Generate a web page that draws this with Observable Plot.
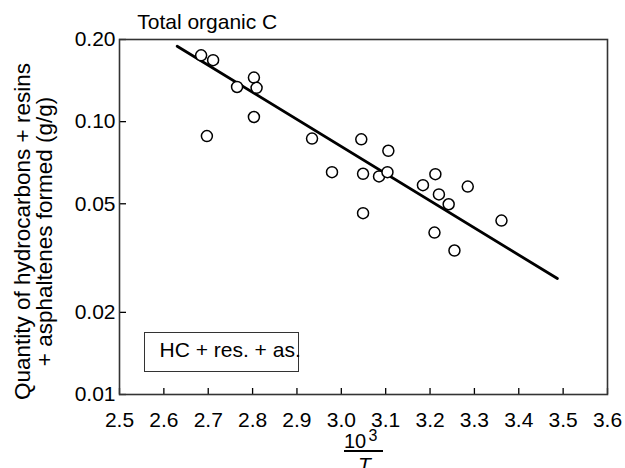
<!DOCTYPE html>
<html><head><meta charset="utf-8">
<script src="https://cdn.jsdelivr.net/npm/d3@7"></script>
<script src="https://cdn.jsdelivr.net/npm/@observablehq/plot@0.6"></script>
<style>
body{margin:0;background:#fff;}
#wrap{position:relative;width:625px;height:468px;overflow:hidden;font-family:"Liberation Sans",Arial,Helvetica,sans-serif;color:#000;background:#fff;}
.abs{position:absolute;line-height:1;white-space:nowrap;}
</style></head><body><div id="wrap"></div>
<script>
// Data
const xValues = [2.684, 2.711, 2.765, 2.803, 2.809, 2.803, 2.697,
                 2.934, 3.045, 3.106, 2.979, 3.049, 3.085, 3.104, 3.049,
                 3.212, 3.184, 3.285, 3.220, 3.242, 3.361, 3.210, 3.255];
const yValues = [0.175, 0.168, 0.134, 0.145, 0.133, 0.104, 0.0885,
                 0.0867, 0.0861, 0.0782, 0.0653, 0.0644, 0.0630, 0.0653, 0.0462,
                 0.0642, 0.0585, 0.0578, 0.0541, 0.0498, 0.0434, 0.0392, 0.0337];
const fitX = [2.63, 3.487];
const fitY = [0.189, 0.0266];
const xTicks = [2.5, 2.6, 2.7, 2.8, 2.9, 3.0, 3.1, 3.2, 3.3, 3.4, 3.5, 3.6];
const yTicks = [0.01, 0.02, 0.05, 0.10, 0.20];
const titleText = "Total organic C";
const yLabel = "Quantity of hydrocarbons + resins\n+ asphaltenes formed (g/g)";
const legendLabel = "HC + res. + as.";

const points = xValues.map((x, i) => ({x, y: yValues[i]}));
const fit = fitX.map((x, i) => ({x, y: fitY[i]}));
const FONT = '"Liberation Sans", Arial, Helvetica, sans-serif';

const chart = Plot.plot({
  width: 625, height: 468,
  marginLeft: 119, marginRight: 18, marginTop: 39, marginBottom: 74,
  style: {fontFamily: FONT, fontSize: "21px", color: "#000", background: "#fff", overflow: "visible"},
  x: {domain: [2.5, 3.6]},
  y: {type: "log", domain: [0.01, 0.2]},
  marks: [
    Plot.axisX({ticks: xTicks, tickSize: -6, tickPadding: 23.5, tickFormat: d3.format(".1f"), label: null, strokeWidth: 1.3}),
    Plot.axisY({ticks: yTicks, tickSize: -7, tickPadding: 11, tickFormat: d3.format(".2f"), label: null, strokeWidth: 1.3}),
    Plot.frame({stroke: "#333", strokeWidth: 1.6}),
    Plot.line(fit, {x: "x", y: "y", stroke: "#000", strokeWidth: 2.8}),
    Plot.dot(points, {x: "x", y: "y", r: 5.5, stroke: "#000", fill: "#fff", strokeWidth: 1.5}),
    Plot.text([yLabel], {frameAnchor: "left", text: d => d, rotate: -90, dx: -86, dy: 14.5, fontSize: 22.5, lineHeight: 0.98, textAnchor: "middle", lineAnchor: "middle"}),
    Plot.text([titleText], {frameAnchor: "top-left", text: d => d, dx: 17.7, dy: -10.7, textAnchor: "start", lineAnchor: "bottom", fontSize: 21})
  ]
});

const wrap = document.getElementById("wrap");
wrap.appendChild(chart);

// Legend box
const box = document.createElement("div");
box.className = "abs";
box.style.cssText = "left:144px;top:332px;width:155px;height:39.5px;border:1.5px solid #333;box-sizing:border-box;background:#fff;";
const lt = document.createElement("span");
lt.className = "abs";
lt.style.cssText = "left:14.5px;top:6.4px;font-size:21px;";
lt.textContent = legendLabel;
box.appendChild(lt);
wrap.appendChild(box);

// X label: 10^3 / T
const num = document.createElement("span");
num.className = "abs";
num.style.cssText = "left:344px;top:430.5px;font-size:20px;";
num.textContent = "10";
wrap.appendChild(num);
const sup = document.createElement("span");
sup.className = "abs";
sup.style.cssText = "left:368.5px;top:430px;font-size:16px;line-height:0.8;";
sup.textContent = "3";
wrap.appendChild(sup);
const bar = document.createElement("div");
bar.className = "abs";
bar.style.cssText = "left:344px;top:450.3px;width:39px;height:1.5px;background:#000;";
wrap.appendChild(bar);
const den = document.createElement("span");
den.className = "abs";
den.style.cssText = "left:358px;top:453.5px;font-size:21px;font-style:italic;";
den.textContent = "T";
wrap.appendChild(den);
</script></body></html>
